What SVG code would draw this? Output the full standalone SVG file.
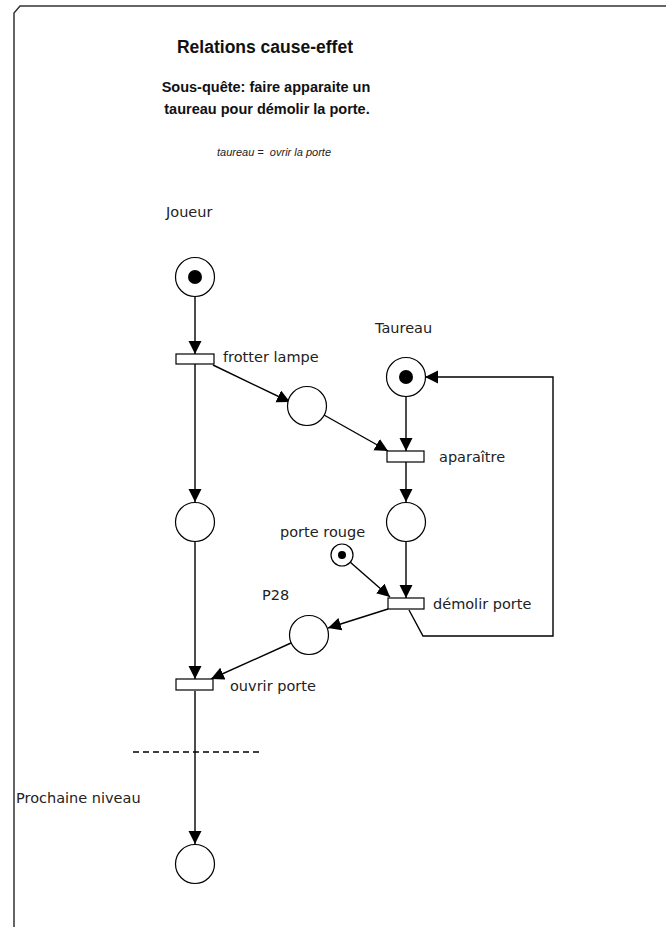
<svg xmlns="http://www.w3.org/2000/svg" width="666" height="929" viewBox="0 0 666 929">
<style>
.ln{fill:none;stroke:#000;stroke-width:1.4}
.pl{fill:#fff;stroke:#000;stroke-width:1.2}
.tr{fill:#fff;stroke:#000;stroke-width:1.2}
.tk{fill:#000}
.lb{font-family:"DejaVu Sans",sans-serif;font-size:14.5px;fill:#222}
.tt{font-family:"Liberation Sans",Arial,sans-serif;font-weight:bold;fill:#111;text-anchor:middle}
</style>
<defs>
<marker id="ar" markerUnits="userSpaceOnUse" markerWidth="14" markerHeight="14" refX="13" refY="6.5" orient="auto">
<path d="M0,0 L13,6.5 L0,13 z" fill="#000"/>
</marker>
</defs>
<rect width="666" height="929" fill="#fff"/>
<path d="M14,927 L14,13 L20,6 L666,6" fill="none" stroke="#333" stroke-width="1.5"/>
<g id="titles">
<text class="tt" x="265" y="53" font-size="17.5">Relations cause-effet</text>
<text class="tt" x="266" y="92" font-size="14.5">Sous-quête: faire apparaite un</text>
<text class="tt" x="267" y="114" font-size="14.5">taureau pour démolir la porte.</text>
<text x="274" y="156" font-family="Liberation Sans,Arial,sans-serif" font-style="italic" font-size="11" fill="#222" text-anchor="middle" style="white-space:pre">taureau =  ovrir la porte</text>
</g>
<g id="connectors">
<line class="ln" x1="195" y1="297" x2="195" y2="354" marker-end="url(#ar)"/>
<line class="ln" x1="195" y1="364" x2="195" y2="502" marker-end="url(#ar)"/>
<line class="ln" x1="213" y1="365" x2="290" y2="402" marker-end="url(#ar)"/>
<line class="ln" x1="324" y1="415" x2="388" y2="451" marker-end="url(#ar)"/>
<line class="ln" x1="406" y1="396" x2="406" y2="451" marker-end="url(#ar)"/>
<line class="ln" x1="406" y1="462" x2="406" y2="502" marker-end="url(#ar)"/>
<line class="ln" x1="406" y1="542" x2="406" y2="598" marker-end="url(#ar)"/>
<line class="ln" x1="350" y1="562" x2="390" y2="597" marker-end="url(#ar)"/>
<line class="ln" x1="388" y1="609" x2="328" y2="628" marker-end="url(#ar)"/>
<line class="ln" x1="291" y1="643" x2="211" y2="679" marker-end="url(#ar)"/>
<line class="ln" x1="195" y1="542" x2="195" y2="679" marker-end="url(#ar)"/>
<line class="ln" x1="195" y1="691" x2="195" y2="844" marker-end="url(#ar)"/>
<polyline class="ln" points="409,610 423,636 553,636 553,377 425,377" marker-end="url(#ar)"/>
<line x1="133" y1="752" x2="263" y2="752" stroke="#000" stroke-width="1.3" stroke-dasharray="6,4"/>
</g>
<g id="joueur"><circle class="pl" cx="195" cy="277" r="19.5"/><circle class="tk" cx="195" cy="277" r="7"/><text class="lb" x="166" y="217">Joueur</text></g>
<g id="frotter-lampe"><rect class="tr" x="176" y="354" width="38" height="10"/><text class="lb" x="223" y="362">frotter lampe</text></g>
<g id="p-lampe"><circle class="pl" cx="307" cy="406" r="19.5"/></g>
<g id="taureau"><circle class="pl" cx="406" cy="377" r="19.5"/><circle class="tk" cx="406" cy="377" r="7"/><text class="lb" x="375" y="333">Taureau</text></g>
<g id="aparaitre"><rect class="tr" x="387" y="451" width="37" height="11"/><text class="lb" x="439" y="462">aparaître</text></g>
<g id="p-left"><circle class="pl" cx="195" cy="522" r="19.5"/></g>
<g id="p-taureau2"><circle class="pl" cx="406" cy="522" r="19.5"/></g>
<g id="porte-rouge"><circle class="pl" cx="342" cy="555" r="11"/><circle class="tk" cx="342" cy="555" r="4"/><text class="lb" x="280" y="537">porte rouge</text></g>
<g id="demolir-porte"><rect class="tr" x="388" y="598" width="36" height="11"/><text class="lb" x="433" y="609">démolir porte</text></g>
<g id="p28"><circle class="pl" cx="309" cy="635" r="19.5"/><text class="lb" x="262" y="600">P28</text></g>
<g id="ouvrir-porte"><rect class="tr" x="176" y="679" width="37" height="11"/><text class="lb" x="230" y="691">ouvrir porte</text></g>
<g id="prochaine-niveau"><text class="lb" x="16" y="803" font-size="15.5">Prochaine niveau</text></g>
<g id="p-final"><circle class="pl" cx="195" cy="864" r="19.5"/></g>
</svg>
